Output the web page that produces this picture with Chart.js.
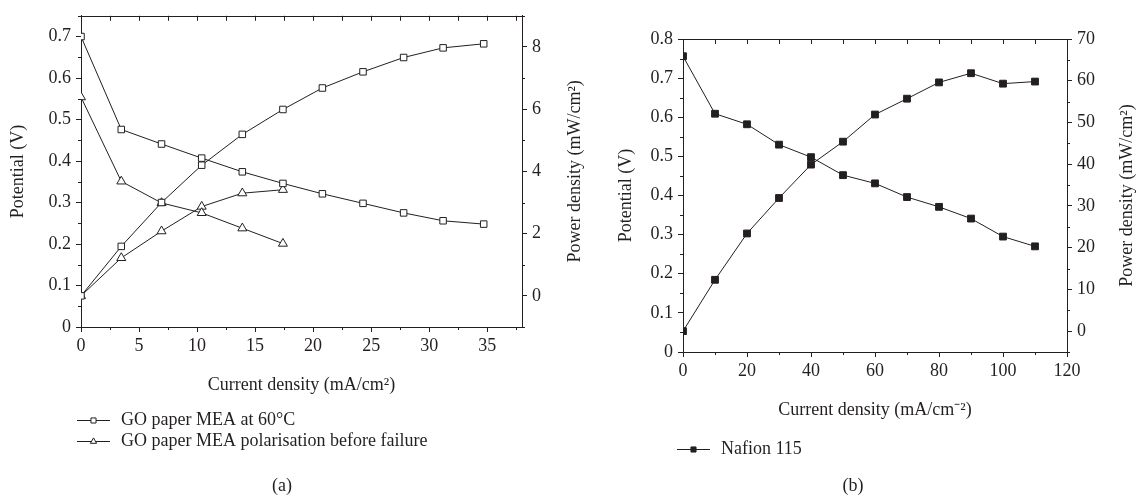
<!DOCTYPE html>
<html>
<head>
<meta charset="utf-8">
<script src="https://cdn.jsdelivr.net/npm/chart.js@4.4.0/dist/chart.umd.min.js"></script>
<style>
  html, body { margin: 0; padding: 0; background: #fff; }
  #wrap { position: relative; width: 1140px; height: 497px; }
  #chartA { position: absolute; left: 0; top: 0; }
  #chartB { position: absolute; left: 600px; top: 0; }
</style>
</head>
<body>
<div id="wrap">
  <canvas id="chartA" width="600" height="497"></canvas>
  <canvas id="chartB" width="540" height="497"></canvas>
</div>
<script>
// (a) GO paper MEA
const aCurrent = [0, 3.47, 6.94, 10.4, 13.9, 17.4, 20.8, 24.3, 27.8, 31.2, 34.7];
const aPotential60 = [0.70, 0.476, 0.441, 0.407, 0.374, 0.346, 0.321, 0.298, 0.275, 0.256, 0.248];
const aPower60 = [0, 1.59, 3.0, 4.2, 5.19, 5.99, 6.68, 7.2, 7.66, 7.97, 8.1];
const aCurrentFail = [0, 3.47, 6.94, 10.4, 13.9, 17.4];
const aPotentialFail = [0.554, 0.351, 0.299, 0.275, 0.238, 0.201];
const aPowerFail = [0, 1.22, 2.08, 2.87, 3.3, 3.41];

// (b) Nafion 115
const bCurrent = [0, 10, 20, 30, 40, 50, 60, 70, 80, 90, 100, 110];
const bPotential = [0.756, 0.609, 0.582, 0.530, 0.498, 0.452, 0.431, 0.396, 0.371, 0.341, 0.295, 0.270];
const bPower = [0, 12.3, 23.4, 31.9, 39.9, 45.4, 51.9, 55.7, 59.6, 61.8, 59.3, 59.8];

// tick labels
const aCurTicks = [0, 5, 10, 15, 20, 25, 30, 35];
const aPotTicks = [0, 0.1, 0.2, 0.3, 0.4, 0.5, 0.6, 0.7];
const aPowTicks = [0, 2, 4, 6, 8];
const bCurTicks = [0, 20, 40, 60, 80, 100, 120];
const bPotTicks = [0, 0.1, 0.2, 0.3, 0.4, 0.5, 0.6, 0.7, 0.8];
const bPowTicks = [0, 10, 20, 30, 40, 50, 60, 70];

const INK = '#231f20';
const FONT = { family: "'Liberation Serif', 'Times New Roman', serif", size: 18 };

const pts = (xs, ys) => xs.map((x, i) => ({ x, y: ys[i] }));

const openSquare = { pointStyle: 'rect', pointRadius: 4.6, pointBackgroundColor: '#fff' };
const openTriangle = { pointStyle: 'triangle', pointRadius: 5.2, pointBackgroundColor: '#fff' };
const filledSquare = { pointStyle: 'rect', pointRadius: 4.8, pointBackgroundColor: INK };
const lineStyle = { showLine: true, borderColor: INK, borderWidth: 1, pointBorderColor: INK, pointBorderWidth: 1 };

function axisX(min, max, ticks, title, height) {
  return {
    type: 'linear', min, max,
    afterBuildTicks: s => { s.ticks = ticks.map(v => ({ value: v })); },
    afterFit: s => { s.height = height; },
    ticks: { font: FONT, color: INK, padding: 3, maxRotation: 0, autoSkip: false, callback: v => String(v) },
    grid: { drawOnChartArea: false, drawTicks: true, tickLength: 5, color: INK },
    border: { color: INK },
    title: { display: true, text: title, font: FONT, color: INK, padding: { top: 4, bottom: 4 } }
  };
}

function axisY(position, min, max, ticks, title, width, titlePad) {
  return {
    type: 'linear', position, min, max,
    afterBuildTicks: s => { s.ticks = ticks.map(v => ({ value: v })); },
    afterFit: s => { s.width = width; },
    ticks: { font: FONT, color: INK, padding: 5, autoSkip: false, callback: v => String(v) },
    grid: { drawOnChartArea: false, drawTicks: true, tickLength: 5, color: INK },
    border: { color: INK },
    title: { display: !!title, text: title || '', font: FONT, color: INK, padding: { top: titlePad || 4, bottom: 0 } }
  };
}

// frame top, minor ticks, right-hand title, legend rows and caption
const paperAxes = {
  id: 'paperAxes',
  afterDraw(chart, args, o) {
    const { ctx, chartArea: a, scales } = chart;
    const px = v => Math.round(v) + 0.5;
    const line = (x1, y1, x2, y2) => { ctx.beginPath(); ctx.moveTo(x1, y1); ctx.lineTo(x2, y2); ctx.stroke(); };
    const each = (scale, step, fn) => {
      for (let k = Math.ceil(scale.min / step - 1e-9); k * step <= scale.max + 1e-9; k++) {
        const v = k * step;
        const major = scale.ticks.some(t => Math.abs(t.value - v) < 1e-6);
        fn(scale.getPixelForValue(v), major);
      }
    };
    ctx.save();
    ctx.strokeStyle = INK;
    ctx.fillStyle = INK;
    ctx.lineWidth = 1;

    line(a.left, px(a.top), a.right, px(a.top));
    each(scales.x, o.xStep, (p, major) => {
      line(px(p), a.top, px(p), a.top + 5);
      if (!major) line(px(p), a.bottom, px(p), a.bottom + 3);
    });
    each(scales.y, o.yStep, (p, major) => { if (!major) line(a.left - 3, px(p), a.left, px(p)); });
    each(scales.y2, o.y2Step, (p, major) => { if (!major) line(a.right, px(p), a.right + 3, px(p)); });

    ctx.font = `${FONT.size}px ${FONT.family}`;
    ctx.textBaseline = 'middle';

    ctx.save();
    ctx.textAlign = 'center';
    ctx.translate(o.rightTitle.x, (a.top + a.bottom) / 2);
    ctx.rotate(-Math.PI / 2);
    ctx.fillText(o.rightTitle.text, 0, 0);
    ctx.restore();

    o.legend.items.forEach((idx, i) => {
      const ds = chart.data.datasets[idx];
      const x = o.legend.x;
      const y = o.legend.y + i * o.legend.gap;
      ctx.strokeStyle = INK;
      line(x, px(y), x + 33, px(y));
      ctx.fillStyle = ds.pointBackgroundColor;
      Chart.helpers.drawPoint(ctx, { pointStyle: ds.pointStyle, radius: 3.6, borderWidth: 1, rotation: 0 }, x + 16.5, px(y));
      ctx.fillStyle = INK;
      ctx.textAlign = 'left';
      ctx.fillText(ds.label, x + 44, y);
    });

    ctx.textAlign = 'center';
    ctx.fillText(o.caption.text, o.caption.x, o.caption.y);
    ctx.restore();
  }
};

new Chart(document.getElementById('chartA'), {
  type: 'scatter',
  data: {
    datasets: [
      { label: 'GO paper MEA at 60\u00b0C', data: pts(aCurrent, aPotential60), yAxisID: 'y', ...lineStyle, ...openSquare },
      { label: 'GO paper MEA at 60\u00b0C', data: pts(aCurrent, aPower60), yAxisID: 'y2', ...lineStyle, ...openSquare },
      { label: 'GO paper MEA polarisation before failure', data: pts(aCurrentFail, aPotentialFail), yAxisID: 'y', ...lineStyle, ...openTriangle },
      { label: 'GO paper MEA polarisation before failure', data: pts(aCurrentFail, aPowerFail), yAxisID: 'y2', ...lineStyle, ...openTriangle }
    ]
  },
  options: {
    responsive: false,
    animation: false,
    layout: { padding: { top: 14, bottom: 97, left: 0, right: 0 } },
    plugins: {
      legend: { display: false },
      tooltip: { enabled: false },
      paperAxes: {
        xStep: 2.5, yStep: 0.05, y2Step: 1,
        rightTitle: { text: 'Power density (mW/cm\u00b2)', x: 575 },
        legend: { items: [0, 2], x: 77, y: 420, gap: 21 },
        caption: { text: '(a)', x: 282, y: 486 }
      }
    },
    scales: {
      x: axisX(0, 38, aCurTicks, 'Current density (mA/cm\u00b2)', 73),
      y: axisY('left', 0, 0.75, aPotTicks, 'Potential (V)', 81, 7),
      y2: axisY('right', -1, 9, aPowTicks, null, 78)
    }
  },
  plugins: [paperAxes]
});

new Chart(document.getElementById('chartB'), {
  type: 'scatter',
  data: {
    datasets: [
      { label: 'Nafion 115', data: pts(bCurrent, bPotential), yAxisID: 'y', ...lineStyle, ...filledSquare },
      { label: 'Nafion 115', data: pts(bCurrent, bPower), yAxisID: 'y2', ...lineStyle, ...filledSquare }
    ]
  },
  options: {
    responsive: false,
    animation: false,
    layout: { padding: { top: 39, bottom: 72, left: 0, right: 0 } },
    plugins: {
      legend: { display: false },
      tooltip: { enabled: false },
      paperAxes: {
        xStep: 10, yStep: 0.05, y2Step: 5,
        rightTitle: { text: 'Power density (mW/cm\u00b2)', x: 527 },
        legend: { items: [0], x: 77, y: 449, gap: 21 },
        caption: { text: '(b)', x: 253, y: 486 }
      }
    },
    scales: {
      x: axisX(0, 120, bCurTicks, 'Current density (mA/cm\u207b\u00b2)', 73),
      y: axisY('left', 0, 0.8, bPotTicks, 'Potential (V)', 83, 15),
      y2: axisY('right', -5, 70, bPowTicks, null, 73)
    }
  },
  plugins: [paperAxes]
});
</script>
</body>
</html>
